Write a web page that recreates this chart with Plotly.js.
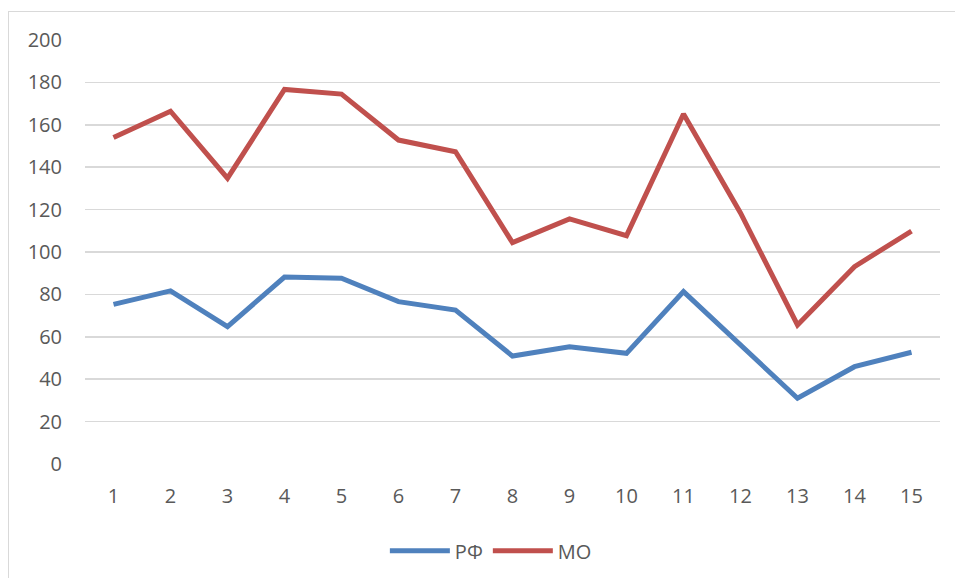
<!DOCTYPE html>
<html>
<head>
<meta charset="utf-8">
<script src="https://cdn.plot.ly/plotly-3.0.1.min.js"></script>
<style>
html,body{margin:0;padding:0;background:#fff;overflow:hidden;}
#wrap{position:relative;width:955px;height:578px;}
#chart{position:absolute;left:0;top:0;width:955px;height:578px;}
#frame{position:absolute;left:8px;top:11px;width:960px;height:580px;border-left:1.5px solid #d9d9d9;border-top:1.5px solid #d9d9d9;pointer-events:none;}
</style>
</head>
<body>
<div id="wrap"><div id="chart"></div><div id="frame"></div></div>
<script>
const categories = [1,2,3,4,5,6,7,8,9,10,11,12,13,14,15];
const rfValues = [75.3, 81.7, 64.8, 88.2, 87.6, 76.6, 72.6, 50.9, 55.3, 52.2, 81.3, 56.3, 31.0, 45.9, 52.7];
const moValues = [154.0, 166.4, 134.8, 176.7, 174.5, 152.8, 147.3, 104.4, 115.6, 107.7, 165.1, 118.4, 65.6, 93.1, 109.9];
const yTicks = [0,20,40,60,80,100,120,140,160,180,200];

const font = {family: 'Open Sans, sans-serif', size: 20, color: '#595959'};

const traces = [
  {x: categories, y: rfValues, name: 'РФ', type: 'scatter', mode: 'lines',
   line: {color: '#4F81BD', width: 5}},
  {x: categories, y: moValues, name: 'МО', type: 'scatter', mode: 'lines',
   line: {color: '#C0504D', width: 5}}
];

const layout = {
  width: 955, height: 578,
  margin: {l: 85, r: 15, t: 40, b: 114, autoexpand: false},
  paper_bgcolor: '#ffffff', plot_bgcolor: '#ffffff',
  font: font,
  showlegend: true,
  legend: {orientation: 'h', xref: 'container', yref: 'container', x: 0.514, xanchor: 'center',
           y: 0.047, yanchor: 'middle',
           font: font, itemwidth: 60, traceorder: 'normal', bgcolor: 'rgba(0,0,0,0)'},
  xaxis: {range: [0.5, 15.5], tickvals: categories, ticktext: categories.map(String),
          showgrid: false, zeroline: false, showline: false, automargin: false,
          ticks: 'outside', ticklen: 14, tickcolor: 'rgba(0,0,0,0)', tickfont: font, fixedrange: true},
  yaxis: {range: [0, 200], tickvals: yTicks, ticktext: yTicks.map(String),
          showgrid: true, gridcolor: '#d9d9d9', gridwidth: 1.5, zeroline: false, showline: false, automargin: false,
          ticks: 'outside', ticklen: 18, tickcolor: 'rgba(0,0,0,0)', tickfont: font, fixedrange: true}
};

Plotly.newPlot('chart', traces, layout, {displayModeBar: false, staticPlot: true});
</script>
</body>
</html>
